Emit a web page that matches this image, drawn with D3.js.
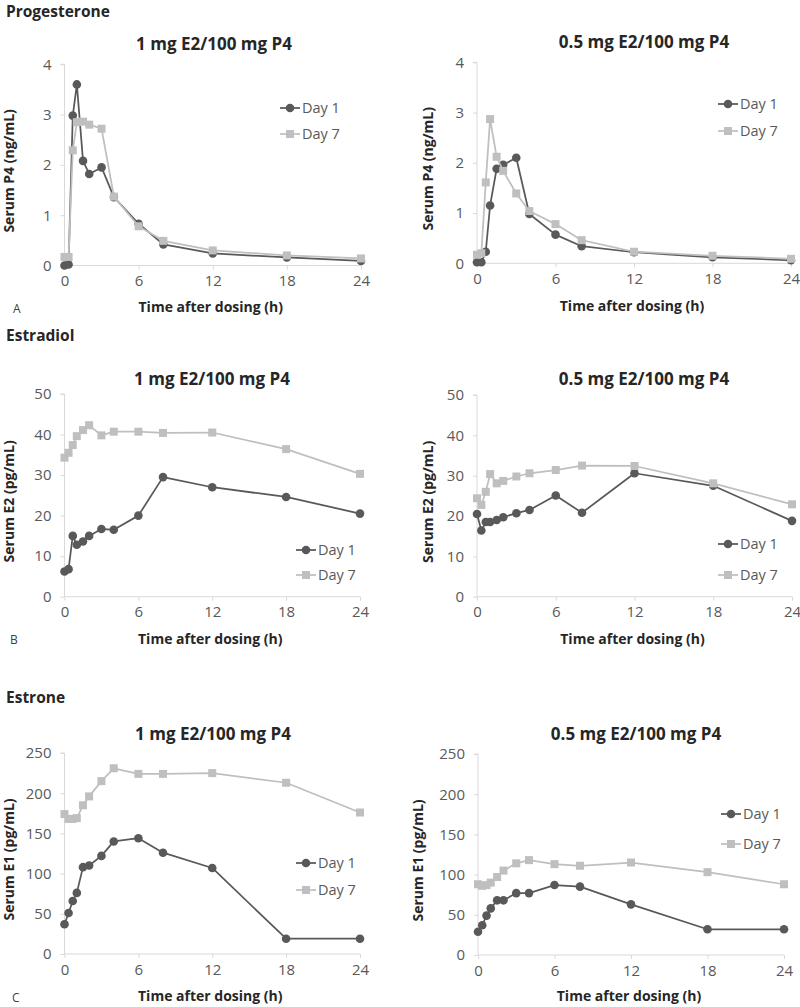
<!DOCTYPE html>
<html><head><meta charset="utf-8">
<script src="https://cdn.jsdelivr.net/npm/d3@7"></script>
<style>body{margin:0;background:#fff}text{font-family:"Open Sans",sans-serif}</style>
</head><body>
<svg id="c" width="800" height="1007"></svg>
<script>
// ---------------- data ----------------
const times = [0, 0.33, 0.67, 1, 1.5, 2, 3, 4, 6, 8, 12, 18, 24];
const seriesNames = ["Day 1", "Day 7"];
const sectionNames = ["Progesterone", "Estradiol", "Estrone"];
const panelLetters = ["A", "B", "C"];
const panelTitles = ["1 mg E2/100 mg P4", "0.5 mg E2/100 mg P4"];
const yTitles = ["Serum P4 (ng/mL)", "Serum E2 (pg/mL)", "Serum E1 (pg/mL)"];
const xTitle = "Time after dosing (h)";
const xTicks = [0, 6, 12, 18, 24];
const p4Ticks = [0, 1, 2, 3, 4];
const e2Ticks = [0, 10, 20, 30, 40, 50];
const e1Ticks = [0, 50, 100, 150, 200, 250];

const p4_1mg_day1 = [0.0, 0.02, 2.98, 3.6, 2.08, 1.82, 1.95, 1.36, 0.83, 0.42, 0.24, 0.16, 0.09];
const p4_1mg_day7 = [0.17, 0.17, 2.29, 2.85, 2.86, 2.80, 2.72, 1.37, 0.78, 0.49, 0.30, 0.20, 0.14];
const p4_05mg_day1 = [0.02, 0.02, 0.23, 1.15, 1.88, 1.96, 2.10, 0.98, 0.57, 0.34, 0.22, 0.12, 0.06];
const p4_05mg_day7 = [0.17, 0.20, 1.61, 2.87, 2.12, 1.84, 1.39, 1.04, 0.78, 0.46, 0.23, 0.15, 0.09];

const e2_1mg_day1 = [6.2, 6.8, 15.0, 12.8, 13.6, 15.0, 16.7, 16.5, 20.0, 29.5, 27.0, 24.6, 20.5];
const e2_1mg_day7 = [34.3, 35.5, 37.4, 39.6, 41.1, 42.3, 39.8, 40.7, 40.7, 40.4, 40.5, 36.4, 30.3];
const e2_05mg_day1 = [20.5, 16.4, 18.5, 18.5, 19.0, 19.7, 20.7, 21.5, 25.1, 20.8, 30.6, 27.5, 18.8];
const e2_05mg_day7 = [24.4, 22.75, 26.0, 30.4, 28.1, 28.7, 29.8, 30.6, 31.4, 32.5, 32.4, 28.1, 22.9];

const e1_1mg_day1 = [37, 51, 66, 76, 108, 110, 122, 140, 144, 126, 107, 19, 19];
const e1_1mg_day7 = [174, 168, 168, 169, 185, 196, 215, 231, 224, 224, 225, 213, 176];
const e1_05mg_day1 = [29, 37, 49, 58, 68, 68, 77, 77, 87, 85, 63, 32, 32];
const e1_05mg_day7 = [88, 86, 87, 90, 97, 105, 114, 118, 113, 111, 115, 103, 88];

// ---------------- layout (positions / styles only) ----------------
const C_DAY1 = "#595959", C_DAY7 = "#BFBFBF", C_AXIS = "#D9D9D9", C_TICK = "#595959", C_TITLE = "#262626";

const panels = [
  {row:0, col:0, d1:p4_1mg_day1, d7:p4_1mg_day7, ticks:p4Ticks, x0:64.5, x1:361, yb:265.5, yt:64.3, tx:214, ty:50, ytx:14, xtb:312, lx:290, ly1:108, ly7:134},
  {row:0, col:1, d1:p4_05mg_day1, d7:p4_05mg_day7, ticks:p4Ticks, x0:477, x1:791, yb:263.3, yt:62.3, tx:644, ty:48, ytx:433, xtb:311, lx:728, ly1:104, ly7:131},
  {row:1, col:0, d1:e2_1mg_day1, d7:e2_1mg_day7, ticks:e2Ticks, x0:64.5, x1:360, yb:596.7, yt:394, tx:212, ty:385, ytx:14, xtb:644, lx:306, ly1:550, ly7:575},
  {row:1, col:1, d1:e2_05mg_day1, d7:e2_05mg_day7, ticks:e2Ticks, x0:477, x1:792, yb:596.7, yt:395, tx:644, ty:385, ytx:433, xtb:644, lx:728, ly1:544, ly7:575},
  {row:2, col:0, d1:e1_1mg_day1, d7:e1_1mg_day7, ticks:e1Ticks, x0:64.5, x1:360, yb:954, yt:753, tx:213, ty:740, ytx:14, xtb:1001, lx:306, ly1:863, ly7:890},
  {row:2, col:1, d1:e1_05mg_day1, d7:e1_05mg_day7, ticks:e1Ticks, x0:478, x1:784, yb:955, yt:754, tx:636, ty:740, ytx:423, xtb:1001, lx:731, ly1:814, ly7:844}
];
const sectionPos = [{x:6, y:17}, {x:6, y:341}, {x:6, y:703}];
const letterPos = [{x:13, y:313}, {x:10, y:644}, {x:12, y:1002}];

const svg = d3.select("#c");

sectionNames.forEach((s, i) => {
  svg.append("text").attr("x", sectionPos[i].x).attr("y", sectionPos[i].y)
    .attr("font-size", 15.5).attr("font-weight", "bold").attr("fill", C_TITLE).text(s);
  svg.append("text").attr("x", letterPos[i].x).attr("y", letterPos[i].y)
    .attr("font-size", 12).attr("fill", "#404040").text(panelLetters[i]);
});

function drawMarker(g, type, x, y, color) {
  if (type === 0) {
    g.append("circle").attr("cx", x).attr("cy", y).attr("r", 4.3).attr("fill", color);
  } else {
    g.append("rect").attr("x", x - 4).attr("y", y - 4).attr("width", 8).attr("height", 8).attr("fill", color);
  }
}

panels.forEach(p => {
  const g = svg.append("g");
  const x = d3.scaleLinear().domain([0, 24]).range([p.x0, p.x1]);
  const y = d3.scaleLinear().domain([0, d3.max(p.ticks)]).range([p.yb, p.yt]);

  // y axis
  const ya = g.append("g").attr("transform", `translate(${p.x0},0)`)
    .call(d3.axisLeft(y).tickValues(p.ticks).tickSize(4).tickPadding(9).tickFormat(d3.format("d")));
  ya.select(".domain").attr("stroke", C_AXIS).attr("d", `M-4,${p.yt}H0V${p.yb}`);
  ya.selectAll(".tick line").attr("stroke", C_AXIS);
  ya.selectAll(".tick text").attr("font-size", 15).attr("fill", C_TICK).attr("font-family", "Open Sans");

  // x axis
  const xa = g.append("g").attr("transform", `translate(0,${p.yb})`)
    .call(d3.axisBottom(x).tickValues(xTicks).tickSize(4).tickPadding(6).tickFormat(d3.format("d")));
  xa.select(".domain").attr("stroke", C_AXIS).attr("d", `M${p.x0},0H${p.x1}`);
  xa.selectAll(".tick line").attr("stroke", C_AXIS);
  xa.selectAll(".tick text").attr("font-size", 15).attr("fill", C_TICK).attr("font-family", "Open Sans");

  // titles
  g.append("text").attr("x", p.tx).attr("y", p.ty).attr("text-anchor", "middle")
    .attr("font-size", 17).attr("font-weight", "bold").attr("fill", C_TITLE).text(panelTitles[p.col]);
  g.append("text").attr("transform", `translate(${p.ytx},${(p.yb + p.yt) / 2 + 6}) rotate(-90)`)
    .attr("text-anchor", "middle").attr("font-size", 14).attr("font-weight", "bold").attr("fill", C_TITLE)
    .text(yTitles[p.row]);
  g.append("text").attr("x", (p.x0 + p.x1) / 2 - 2).attr("y", p.xtb).attr("text-anchor", "middle")
    .attr("font-size", 14).attr("font-weight", "bold").attr("fill", C_TITLE).text(xTitle);

  // series
  const line = d3.line().x((d, i) => x(times[i])).y(d => y(d));
  [[p.d1, C_DAY1, 0], [p.d7, C_DAY7, 1]].forEach(([vals, color, type]) => {
    g.append("path").datum(vals).attr("d", line).attr("fill", "none")
      .attr("stroke", color).attr("stroke-width", 1.75).attr("stroke-linejoin", "round");
    vals.forEach((v, i) => drawMarker(g, type, x(times[i]), y(v), color));
  });

  // legend
  [[p.ly1, C_DAY1, 0], [p.ly7, C_DAY7, 1]].forEach(([ly, color, type], k) => {
    g.append("line").attr("x1", p.lx - 10).attr("x2", p.lx + 10).attr("y1", ly).attr("y2", ly)
      .attr("stroke", color).attr("stroke-width", 1.75);
    drawMarker(g, type, p.lx, ly, color);
    g.append("text").attr("x", p.lx + 12).attr("y", ly).attr("dy", "0.35em")
      .attr("font-size", 14.5).attr("fill", C_TICK).text(seriesNames[k]);
  });
});
</script>
</body></html>
